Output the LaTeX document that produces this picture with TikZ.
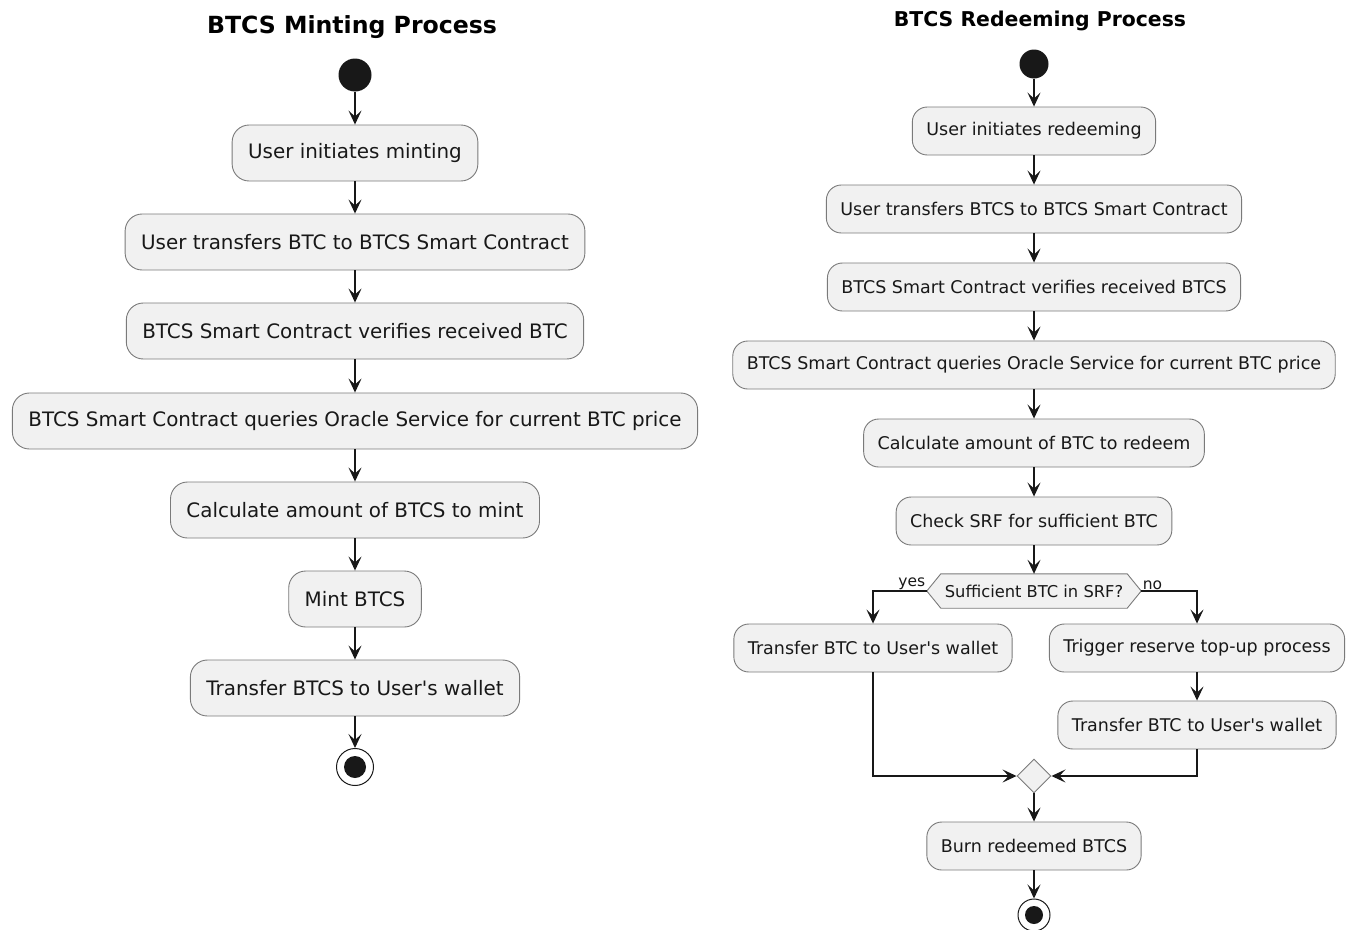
\documentclass[tikz,border=0pt]{standalone}
\usepackage{fontspec}
\setmainfont{DejaVu Sans}
\usetikzlibrary{arrows.meta,shapes.geometric}
\definecolor{boxfill}{HTML}{F1F1F1}
\definecolor{bordergray}{HTML}{7A7A7A}
\definecolor{linec}{HTML}{181818}
\pgfdeclarelayer{bg}
\pgfsetlayers{bg,main}
\tikzset{
  act/.style={draw=bordergray, fill=boxfill, rounded corners=17pt, line width=0.9pt,
    minimum height=56pt, inner xsep=16pt, inner ysep=0pt,
    font=\fontsize{19.9}{22}\selectfont, text=linec},
  ract/.style={act, rounded corners=15pt, minimum height=48pt, inner xsep=14pt,
    font=\fontsize{17.5}{20}\selectfont},
  arr/.style={draw=linec, line width=1.3pt, -{Stealth[length=14pt,width=13pt,inset=6pt]}},
  startdot/.style={circle, fill=linec, inner sep=0pt},
  enddot/.style={circle, draw=linec, line width=1pt, fill=white, inner sep=0pt},
  title/.style={font=\fontsize{23.6}{26}\selectfont\bfseries, text=black},
  rtitle/.style={font=\fontsize{20.4}{24}\selectfont\bfseries, text=black},
  lbl/.style={font=\fontsize{15.5}{17}\selectfont, text=linec, inner sep=1pt},
}
\begin{document}
\begin{tikzpicture}[x=1pt,y=-1pt]
\useasboundingbox (0,0) rectangle (1356,929);

% ---------------- Minting ----------------
\node[title] (t1) at (352,27) {BTCS Minting Process};
\node[startdot, minimum size=33pt] (ls) at (355,75) {};
\node[act] (l1) at (355,153) {User initiates minting};
\node[act] (l2) at (355,242) {User transfers BTC to BTCS Smart Contract};
\node[act] (l3) at (355,331) {BTCS Smart Contract verifies received BTC};
\node[act] (l4) at (355,421) {BTCS Smart Contract queries Oracle Service for current BTC price};
\node[act] (l5) at (355,510) {Calculate amount of BTCS to mint};
\node[act] (l6) at (355,599) {Mint BTCS};
\node[act] (l7) at (355,688) {Transfer BTCS to User\textquotesingle s wallet};
\node[enddot, minimum size=37pt] (le) at (355,767) {};
\fill[linec] (le.center) circle (11pt);

\draw[arr] (ls) -- (l1);
\draw[arr] (l1) -- (l2);
\draw[arr] (l2) -- (l3);
\draw[arr] (l3) -- (l4);
\draw[arr] (l4) -- (l5);
\draw[arr] (l5) -- (l6);
\draw[arr] (l6) -- (l7);
\draw[arr] (l7) -- (le);

% ---------------- Redeeming ----------------
\node[rtitle] (t2) at (1040,21) {BTCS Redeeming Process};
\node[startdot, minimum size=29pt] (rs) at (1034,64) {};
\node[ract] (r1) at (1034,131) {User initiates redeeming};
\node[ract] (r2) at (1034,209) {User transfers BTCS to BTCS Smart Contract};
\node[ract] (r3) at (1034,287) {BTCS Smart Contract verifies received BTCS};
\node[ract] (r4) at (1034,365) {BTCS Smart Contract queries Oracle Service for current BTC price};
\node[ract] (r5) at (1034,443) {Calculate amount of BTC to redeem};
\node[ract] (r6) at (1034,521) {Check SRF for sufficient BTC};
\node[lbl, font=\fontsize{16.3}{18}\selectfont, minimum width=214pt, minimum height=34pt, inner sep=0pt] (dec) at (1034,591) {Sufficient BTC in SRF?};
\begin{pgfonlayer}{bg}
\filldraw[draw=bordergray, fill=boxfill, line width=0.9pt]
  (dec.west) -- ([xshift=14pt]dec.north west) -- ([xshift=-14pt]dec.north east)
  -- (dec.east) -- ([xshift=-14pt]dec.south east) -- ([xshift=14pt]dec.south west) -- cycle;
\end{pgfonlayer}
\node[ract] (ry) at (873,648) {Transfer BTC to User\textquotesingle s wallet};
\node[ract] (rn1) at (1197,648) {Trigger reserve top-up process};
\node[ract] (rn2) at (1197,725) {Transfer BTC to User\textquotesingle s wallet};
\node[diamond, draw=bordergray, fill=boxfill, line width=0.9pt, minimum size=34pt, inner sep=0pt] (mg) at (1034,776) {};
\node[ract] (r7) at (1034,846) {Burn redeemed BTCS};
\node[enddot, minimum size=32pt] (re) at (1034,915) {};
\fill[linec] (re.center) circle (9pt);

\draw[arr] (rs) -- (r1);
\draw[arr] (r1) -- (r2);
\draw[arr] (r2) -- (r3);
\draw[arr] (r3) -- (r4);
\draw[arr] (r4) -- (r5);
\draw[arr] (r5) -- (r6);
\draw[arr] (r6) -- (dec.north);
\draw[arr] (dec.west) node[lbl, anchor=south east] {yes} -| (ry.north);
\draw[arr] (dec.east) node[lbl, anchor=south west] {no} -| (rn1.north);
\draw[arr] (rn1) -- (rn2);
\draw[arr] (ry.south) |- (mg.west);
\draw[arr] (rn2.south) |- (mg.east);
\draw[arr] (mg) -- (r7);
\draw[arr] (r7) -- (re);
\end{tikzpicture}
\end{document}
